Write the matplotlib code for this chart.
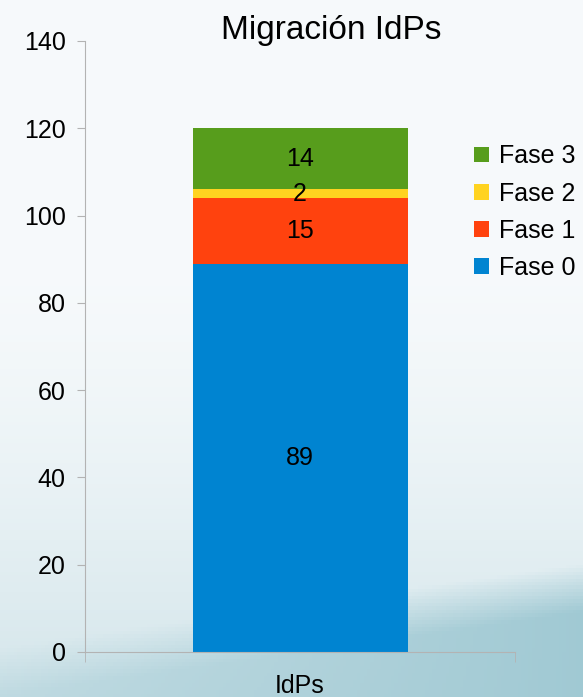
import matplotlib as mpl
import matplotlib.pyplot as plt
import numpy as np

plt.rcParams['font.family'] = ['Liberation Sans', 'DejaVu Sans']

categories = ['IdPs']
series = ['Fase 0', 'Fase 1', 'Fase 2', 'Fase 3']
values = [89, 15, 2, 14]
colors = ['#0084d1', '#ff420e', '#ffd320', '#579d1c']

fig = plt.figure(figsize=(5.83, 6.97), dpi=100)

# background gradient, light at top, teal towards bottom right
bg = fig.add_axes([0, 0, 1, 1], zorder=-10)
bg.axis('off')
h, w = 200, 170
yy, xx = np.mgrid[0:1:h * 1j, 0:1:w * 1j]
t = np.clip((yy - 0.4) / 0.6, 0, 1) ** 1.4
band = np.clip((yy - 0.93 + 0.12 * xx) / 0.07, 0, 1) * (0.4 + 0.6 * xx)
top = np.array([0.965, 0.978, 0.985])
mid = np.array([0.83, 0.90, 0.92])
dark = np.array([0.63, 0.79, 0.83])
img = top * (1 - t[..., None]) + mid * t[..., None]
img = img * (1 - band[..., None]) + dark * band[..., None]
bg.imshow(img, aspect='auto', extent=[0, 1, 0, 1], origin='upper')
bg.set_xlim(0, 1)
bg.set_ylim(0, 1)

ax = fig.add_axes([0.1458, 0.0646, 0.7376, 0.8766])
ax.patch.set_alpha(0)

bottom = 0
for name, v, c in zip(series, values, colors):
    ax.bar(0, v, width=0.5, bottom=bottom, color=c, label=name)
    ax.text(0, bottom + v / 2, str(v), ha='center', va='center', fontsize=18, color='black')
    bottom += v

ax.set_xlim(-0.5, 0.5)
ax.set_ylim(0, 140)
ax.set_yticks(range(0, 141, 20))
ax.set_xticks([0])
ax.set_xticklabels(categories)
ax.set_xticks([-0.5, 0.5], minor=True)

for s in ['top', 'right']:
    ax.spines[s].set_visible(False)
for s in ['left', 'bottom']:
    ax.spines[s].set_color('#b3b3b3')
ax.tick_params(axis='y', length=6, color='#b3b3b3', labelsize=18, pad=8)
ax.tick_params(axis='x', which='major', length=0, labelsize=18, pad=16)
ax.tick_params(axis='x', which='minor', length=7, color='#b3b3b3')

handles, labels = ax.get_legend_handles_labels()
fig.legend(handles[::-1], labels[::-1], loc='upper left', bbox_to_anchor=(0.8136, 0.793),
           frameon=False, fontsize=18, handlelength=0.6, handleheight=0.6,
           handletextpad=0.4, labelspacing=0.53, borderpad=0, borderaxespad=0)

fig.text(0.568, 0.956, 'Migración IdPs', ha='center', va='center', fontsize=24)

fig.savefig('out.png', dpi=100)
